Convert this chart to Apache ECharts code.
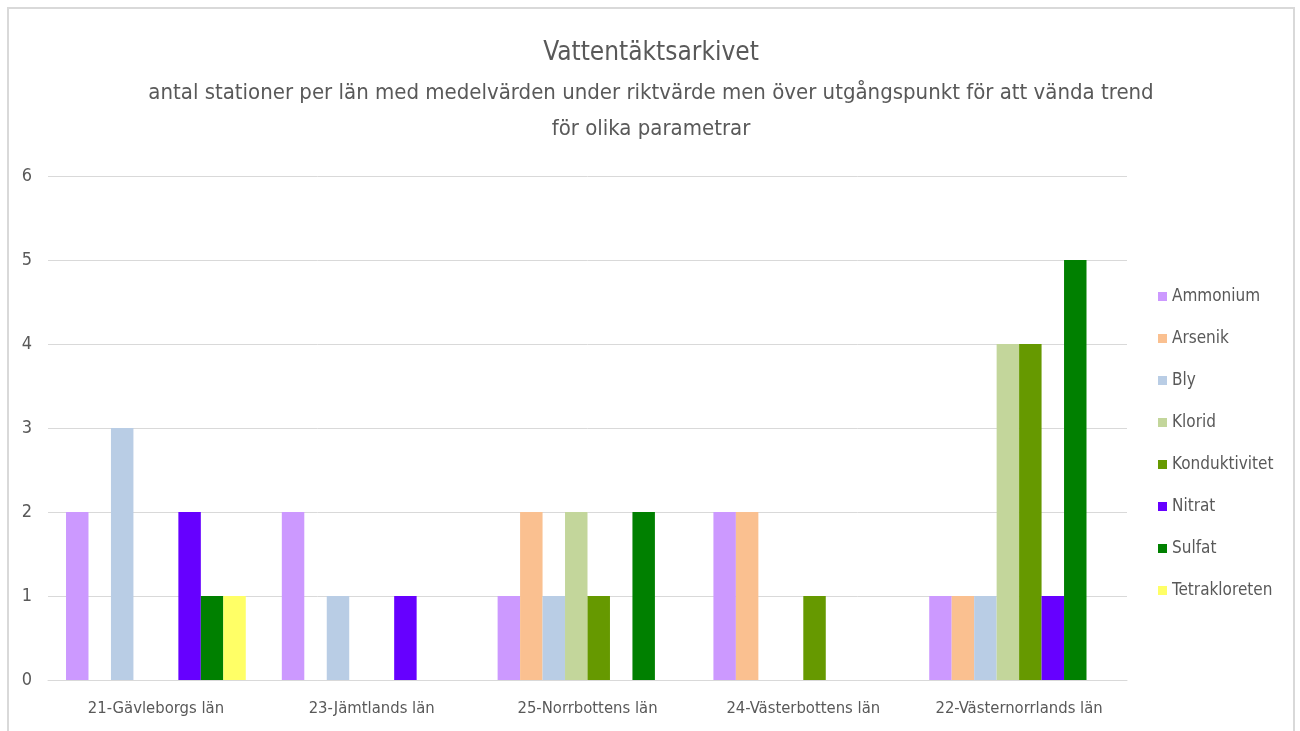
<!DOCTYPE html>
<html>
<head>
<meta charset="utf-8">
<script src="https://cdn.jsdelivr.net/npm/echarts@6/dist/echarts.min.js"></script>
<style>
  html, body { margin: 0; padding: 0; background: #fff; }
  #frame {
    position: absolute; left: 7px; top: 7px; width: 1284px; height: 724px;
    border: 2px solid #d9d9d9; border-bottom: none; background: #fff;
  }
  #chart { width: 1284px; height: 724px; }
</style>
</head>
<body>
<div id="frame"><div id="chart"></div></div>
<script>
// categories (län)
var lan = ['21-Gävleborgs län', '23-Jämtlands län', '25-Norrbottens län', '24-Västerbottens län', '22-Västernorrlands län'];

// antal stationer per parameter, i samma ordning som lan
var ammonium      = [2, 2, 1, 2, 1];
var arsenik       = [0, 0, 2, 2, 1];
var bly           = [3, 1, 1, 0, 1];
var klorid        = [0, 0, 2, 0, 4];
var konduktivitet = [0, 0, 1, 1, 4];
var nitrat        = [2, 1, 0, 0, 1];
var sulfat        = [1, 0, 2, 0, 5];
var tetrakloreten = [1, 0, 0, 0, 0];

var parametrar = ['Ammonium', 'Arsenik', 'Bly', 'Klorid', 'Konduktivitet', 'Nitrat', 'Sulfat', 'Tetrakloreten'];
var varden = [ammonium, arsenik, bly, klorid, konduktivitet, nitrat, sulfat, tetrakloreten];
var farger = ['#cc99ff', '#fac090', '#b9cde5', '#c3d69b', '#669900', '#6600ff', '#008000', '#ffff66'];

var font = '"Liberation Sans Narrow", "DejaVu Sans Condensed", "Open Sans", sans-serif';

var chart = echarts.init(document.getElementById('chart'));

var series = parametrar.map(function (namn, i) {
    return {
        name: namn,
        type: 'bar',
        data: varden[i].map(function (v) { return v === 0 ? null : v; }),
        itemStyle: { color: farger[i] },
        barGap: '0%',
        barCategoryGap: '16.7%'
    };
});

chart.setOption({
    animation: false,
    color: farger,
    title: [{
        text: 'Vattentäktsarkivet',
        left: 'center',
        top: 26,
        textStyle: { fontFamily: font, fontSize: 26, fontWeight: 'normal', color: '#595959' }
    }, {
        text: 'antal stationer per län med medelvärden under riktvärde men över utgångspunkt för att vända trend\nför olika parametrar',
        left: 'center',
        top: 61,
        textStyle: { fontFamily: font, fontSize: 22, fontWeight: 'normal', color: '#595959', lineHeight: 36 }
    }],
    legend: {
        orient: 'vertical',
        left: 1144,
        top: 274,
        itemWidth: 9,
        itemHeight: 9,
        itemGap: 25,
        icon: 'rect',
        textStyle: { fontFamily: font, fontSize: 17, color: '#595959', padding: [0, 0, 0, 0] },
        data: parametrar
    },
    grid: {
        left: 39,
        top: 167,
        width: 1079,
        height: 504,
        containLabel: false
    },
    xAxis: {
        type: 'category',
        data: lan,
        axisLine: { lineStyle: { color: '#d9d9d9' } },
        axisTick: { show: false },
        axisLabel: { interval: 0, fontFamily: font, fontSize: 16.5, color: '#595959', margin: 20 }
    },
    yAxis: {
        type: 'value',
        min: 0,
        max: 6,
        interval: 1,
        axisLine: { show: false },
        axisTick: { show: false },
        axisLabel: { fontFamily: font, fontSize: 18, color: '#595959', margin: 16 },
        splitLine: { lineStyle: { color: '#d9d9d9' } }
    },
    series: series
});
</script>
</body>
</html>
